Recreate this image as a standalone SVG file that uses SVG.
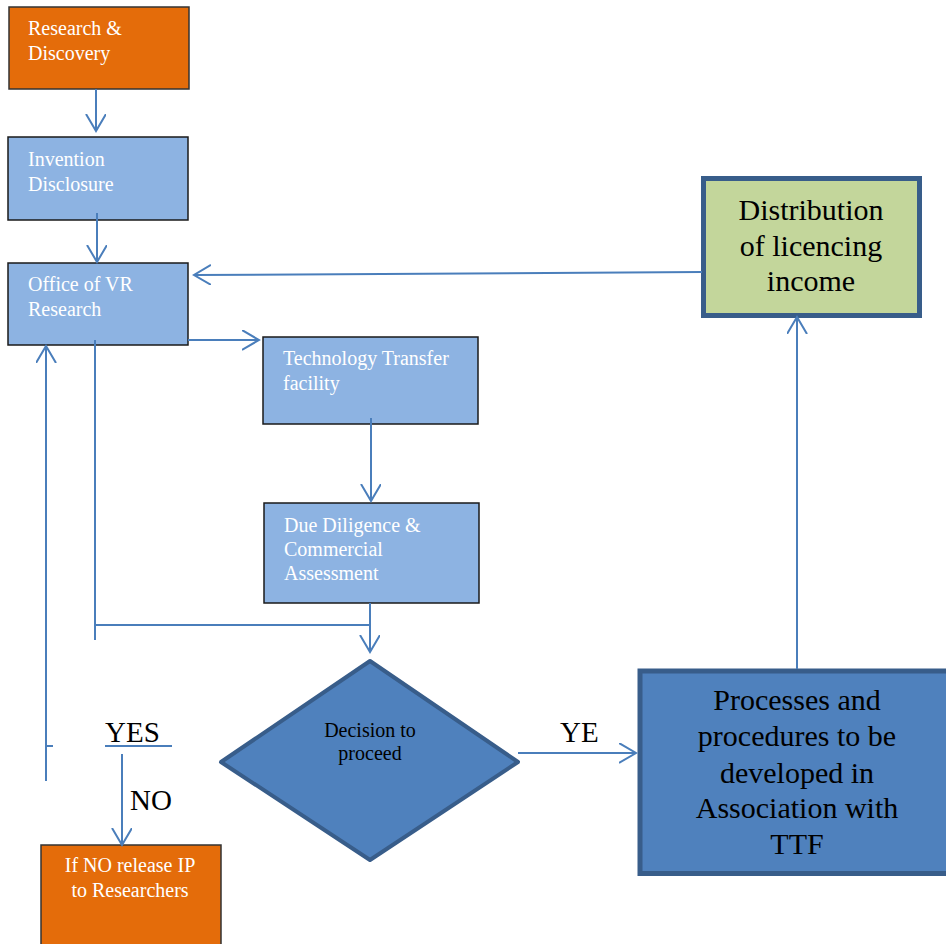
<svg xmlns="http://www.w3.org/2000/svg" width="946" height="944" viewBox="0 0 946 944">
<style>
.box{stroke:#1a1a1a;stroke-width:1.5}
.orange{fill:#E46C0A;stroke:#333333;stroke-width:1.5}
.light{fill:#8DB3E2}
.wt{font-family:"Liberation Serif","Times New Roman",serif;font-size:20px;fill:#ffffff}
.bt{font-family:"Liberation Serif","Times New Roman",serif;fill:#000000}
.conn{stroke:#4A7EBB;stroke-width:2;fill:none}
</style>
<defs>
<marker id="arr" markerUnits="userSpaceOnUse" markerWidth="20" markerHeight="22" refX="17" refY="10" orient="auto" viewBox="0 0 20 22">
<path d="M0,0 L17,10 L0,20" fill="none" stroke="#4A7EBB" stroke-width="2"/>
</marker>
</defs>
<rect width="946" height="944" fill="#ffffff"/>

<g id="research-discovery">
<rect class="orange" x="9" y="7" width="180" height="82"/>
<text class="wt" x="28" y="35">Research &amp;</text>
<text class="wt" x="28" y="60">Discovery</text>
</g>

<g id="invention-disclosure">
<rect class="box light" x="8" y="137" width="180" height="83"/>
<text class="wt" x="28" y="166">Invention</text>
<text class="wt" x="28" y="191">Disclosure</text>
</g>

<g id="office-vr-research">
<rect class="box light" x="8" y="263" width="180" height="82"/>
<text class="wt" x="28" y="291">Office of VR</text>
<text class="wt" x="28" y="316">Research</text>
</g>

<g id="technology-transfer">
<rect class="box light" x="263" y="337" width="215" height="87"/>
<text class="wt" x="283" y="365">Technology Transfer</text>
<text class="wt" x="283" y="390">facility</text>
</g>

<g id="due-diligence">
<rect class="box light" x="264" y="503" width="215" height="100"/>
<text class="wt" x="284" y="532">Due Diligence &amp;</text>
<text class="wt" x="284" y="556">Commercial</text>
<text class="wt" x="284" y="580">Assessment</text>
</g>

<g id="decision">
<polygon points="370,661 518,762 370,860 221,762" fill="#4F81BD" stroke="#385D8A" stroke-width="4" stroke-linejoin="round"/>
<text class="bt" font-size="20" x="370" y="737" text-anchor="middle">Decision to</text>
<text class="bt" font-size="20" x="370" y="760" text-anchor="middle">proceed</text>
</g>

<g id="release-ip">
<rect class="orange" x="41" y="845" width="180" height="110"/>
<text class="wt" x="130" y="872" text-anchor="middle">If NO release IP</text>
<text class="wt" x="130" y="897" text-anchor="middle">to Researchers</text>
</g>

<g id="processes">
<rect x="640" y="671" width="330" height="202.5" fill="#4F81BD" stroke="#385D8A" stroke-width="5"/>
<text class="bt" font-size="30" x="797" y="710" text-anchor="middle">Processes and</text>
<text class="bt" font-size="30" x="797" y="746" text-anchor="middle">procedures to be</text>
<text class="bt" font-size="30" x="797" y="783" text-anchor="middle">developed in</text>
<text class="bt" font-size="30" x="797" y="818" text-anchor="middle">Association with</text>
<text class="bt" font-size="30" x="797" y="854" text-anchor="middle">TTF</text>
</g>

<g id="distribution">
<rect x="703.5" y="178.5" width="216" height="137" fill="#C3D69B" stroke="#385D8A" stroke-width="5"/>
<text class="bt" font-size="30" x="811" y="220" text-anchor="middle">Distribution</text>
<text class="bt" font-size="30" x="811" y="256" text-anchor="middle">of licencing</text>
<text class="bt" font-size="30" x="811" y="291" text-anchor="middle">income</text>
</g>

<g id="connectors">
<line class="conn" x1="96" y1="89" x2="96" y2="131" marker-end="url(#arr)"/>
<line class="conn" x1="97" y1="213" x2="97" y2="262" marker-end="url(#arr)"/>
<line class="conn" x1="702" y1="272" x2="194" y2="275" marker-end="url(#arr)"/>
<line class="conn" x1="188" y1="340" x2="259" y2="340" marker-end="url(#arr)"/>
<line class="conn" x1="371" y1="418" x2="371" y2="501" marker-end="url(#arr)"/>
<line class="conn" x1="95" y1="340" x2="95" y2="640"/>
<line class="conn" x1="95" y1="625" x2="370" y2="625"/>
<line class="conn" x1="370" y1="603" x2="370" y2="652" marker-end="url(#arr)"/>
<line class="conn" x1="46" y1="781" x2="46" y2="346" marker-end="url(#arr)"/>
<line class="conn" x1="46" y1="746" x2="53" y2="746"/>
<line class="conn" x1="105" y1="746" x2="172" y2="746"/>
<line class="conn" x1="122" y1="754" x2="122" y2="845" marker-end="url(#arr)"/>
<line class="conn" x1="518" y1="753" x2="636" y2="753" marker-end="url(#arr)"/>
<line class="conn" x1="797" y1="669" x2="797" y2="317" marker-end="url(#arr)"/>
</g>

<g id="labels">
<text class="bt" font-size="29" x="105" y="742">YES</text>
<text class="bt" font-size="29" x="130" y="810">NO</text>
<text class="bt" font-size="29" x="560" y="742">YE</text>
</g>
</svg>
